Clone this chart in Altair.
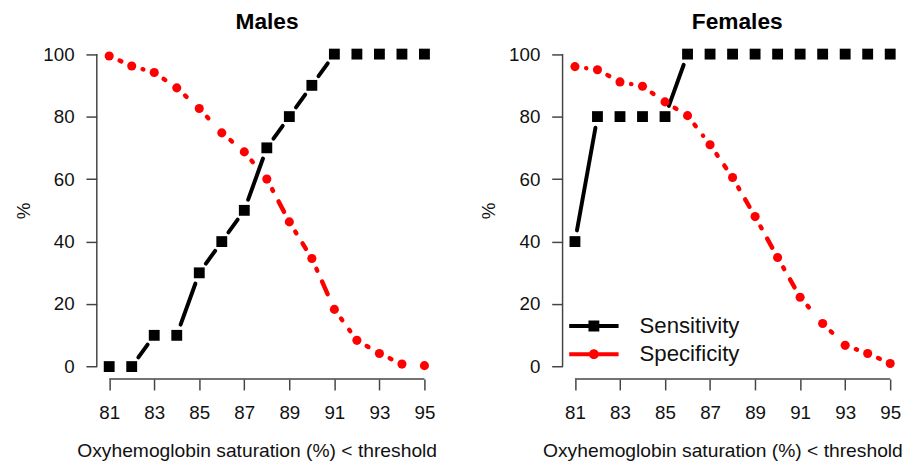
import math
import altair as alt
import pandas as pd

# ---------------- data ----------------
x_vals = list(range(81, 96))
male_sens = [0, 0, 10, 10, 30, 40, 50, 70, 80, 90, 100, 100, 100, 100, 100]
male_spec = [99.4, 96.2, 94.1, 89.2, 82.6, 74.8, 68.7, 60.0, 46.3, 34.6, 18.3, 8.4, 4.2, 0.8, 0.3]
female_sens = [40, 80, 80, 80, 80, 100, 100, 100, 100, 100, 100, 100, 100, 100, 100]
female_spec = [96.0, 95.0, 91.1, 89.7, 84.7, 80.3, 71.0, 60.5, 48.0, 34.9, 22.2, 13.8, 6.8, 4.2, 1.0]
x_ticks = [81, 83, 85, 87, 89, 91, 93, 95]
y_ticks = [0, 20, 40, 60, 80, 100]
series_names = ["Sensitivity", "Specificity"]
panel_titles = ["Males", "Females"]
x_title = "Oxyhemoglobin saturation (%) < threshold"
y_title = "%"

# ---------------- layout / style ----------------
FONT = "Liberation Sans"
AX = "#444444"
X_LO = 80.45
KX = 22.82          # px per x unit
W_L = 345
W_R = 336
H = 342
Y_LO, Y_HI = -4, 104
KY = H / (Y_HI - Y_LO)
GAP = 11.5          # gap between line segment ends and point centres (R type="b")
XTITLE_X = 162      # x-axis title centre, px from the plot's left edge

PATH_SQ = "M-2.5,-0.2H2.5V0.2H-2.5Z M-0.55,-0.55H0.55V0.55H-0.55Z"
PATH_CI = ("M-2.5,-0.2H-0.46V0.2H-2.5Z M0.46,-0.2H2.5V0.2H0.46Z "
           "M-0.5,0A0.5,0.5 0 1,1 0.5,0A0.5,0.5 0 1,1 -0.5,0Z")


def seg_df(xs, ys):
    rows = []
    for x0, y0, x1, y1 in zip(xs, ys, xs[1:], ys[1:]):
        L = math.hypot((x1 - x0) * KX, (y1 - y0) * KY)
        if L <= 2 * GAP:
            continue
        f = GAP / L
        rows.append(dict(x=x0 + f * (x1 - x0), y=y0 + f * (y1 - y0),
                         x2=x1 - f * (x1 - x0), y2=y1 - f * (y1 - y0)))
    return pd.DataFrame(rows)


def panel(title, sens, spec, width, legend=False, title_dx=0):
    xsc = alt.Scale(domain=[X_LO, X_LO + width / KX], nice=False, zero=False)
    ysc = alt.Scale(domain=[Y_LO, Y_HI], nice=False, zero=False)
    common = dict(domain=False, grid=False, tickSize=11, tickWidth=1.5, tickColor=AX,
                  labelFontSize=19, labelFont=FONT, labelColor="#111111",
                  titleFont=FONT, titleFontWeight="normal", titleColor="#111111")
    xax = alt.Axis(values=x_ticks, title=x_title, labelPadding=14, titlePadding=19,
                   titleFontSize=19.5, titleX=XTITLE_X, titleAlign="center",
                   labelFlush=False, format="d", **common)
    yax = alt.Axis(values=y_ticks, title=y_title, labelPadding=12, titlePadding=10,
                   titleFontSize=19, format="d", **common)

    def X(f):
        return alt.X(f, scale=xsc, axis=xax)

    def Y(f):
        return alt.Y(f, scale=ysc, axis=yax)

    one = alt.Data(values=[{}])
    xline = alt.Chart(one).mark_rule(color=AX, strokeWidth=1.5).encode(
        x=alt.X(datum=x_ticks[0], scale=xsc, axis=xax), x2=alt.X2(datum=x_ticks[-1]),
        y=alt.value(H))
    yline = alt.Chart(one).mark_rule(color=AX, strokeWidth=1.5).encode(
        y=alt.Y(datum=y_ticks[0], scale=ysc, axis=yax), y2=alt.Y2(datum=y_ticks[-1]),
        x=alt.value(0))

    sens_seg = alt.Chart(seg_df(x_vals, sens)).mark_rule(
        color="black", strokeWidth=4, strokeCap="round").encode(
        x=X("x:Q"), y=Y("y:Q"), x2="x2:Q", y2="y2:Q")
    spec_seg = alt.Chart(seg_df(x_vals, spec)).mark_rule(
        color="red", strokeWidth=4.5, strokeCap="round", strokeDash=[2, 12, 14, 12]).encode(
        x=X("x:Q"), y=Y("y:Q"), x2="x2:Q", y2="y2:Q")

    sdf = pd.DataFrame({"x": x_vals, "y": sens})
    pdf = pd.DataFrame({"x": x_vals, "y": spec})
    sens_pts = alt.Chart(sdf).mark_square(size=121, color="black", opacity=1).encode(
        x=X("x:Q"), y=Y("y:Q"))
    spec_pts = alt.Chart(pdf).mark_circle(size=85, color="red", opacity=1).encode(
        x=X("x:Q"), y=Y("y:Q"))

    layers = [xline, yline, sens_seg, spec_seg, sens_pts, spec_pts]

    if legend:
        long = pd.DataFrame({"x": x_vals * 2, "y": sens + spec,
                             "series": [series_names[0]] * len(x_vals) + [series_names[1]] * len(x_vals)})
        leg = alt.Legend(orient="none", legendX=20.5, legendY=277, title=None,
                         labelFontSize=22.5, labelFont=FONT, labelColor="#111111",
                         symbolSize=400, labelOffset=35, rowPadding=5.5, padding=0,
                         symbolStrokeWidth=0, symbolOpacity=1)
        leg_layer = alt.Chart(long).mark_point(filled=True, opacity=0).encode(
            x=X("x:Q"), y=Y("y:Q"),
            color=alt.Color("series:N", scale=alt.Scale(domain=series_names, range=["black", "red"]), legend=leg),
            shape=alt.Shape("series:N", scale=alt.Scale(domain=series_names, range=[PATH_SQ, PATH_CI]), legend=leg))
        layers.append(leg_layer)

    return alt.layer(*layers).properties(
        width=width, height=H,
        title=alt.TitleParams(title, fontSize=23, fontWeight="bold", font=FONT, anchor="middle",
                              offset=8, dx=title_dx, color="#000000"))


left = panel(panel_titles[0], male_sens, male_spec, W_L)
right = panel(panel_titles[1], female_sens, female_spec, W_R, legend=True, title_dx=9)

chart = alt.hconcat(left, right, spacing=43).resolve_scale(
    x="independent", y="independent", color="independent", shape="independent"
).resolve_legend(color="independent", shape="independent").properties(
    padding={"left": 6, "top": 0, "right": 0, "bottom": 0}
).configure_view(strokeWidth=0)

chart.save("out.html", embed_options={"renderer": "svg", "actions": False})
